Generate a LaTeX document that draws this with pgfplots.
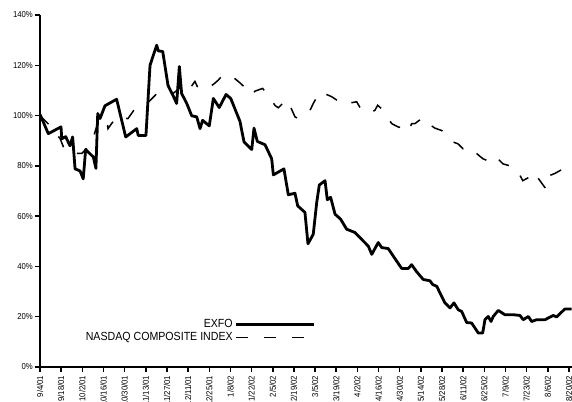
\documentclass[border=0pt]{standalone}
\usepackage{pgfplots}
\pgfplotsset{compat=1.18}
\usepackage{fontspec}
\setmainfont{Liberation Sans}[FakeStretch=0.9]
\begin{document}
\begin{tikzpicture}
\begin{axis}[
  scale only axis,
  width=532bp, height=352bp,
  xmin=0, xmax=352, ymin=0, ymax=140,
  axis lines=left,
  axis line style={-, line width=2bp},
  tick align=outside,
  major tick length=5bp,
  tick style={line width=1.5bp, black},
  xtick={0,14,...,350},
  xticklabels={9/4/01,9/18/01,10/2/01,10/16/01,10/30/01,11/13/01,11/27/01,12/11/01,12/25/01,1/8/02,1/22/02,2/5/02,2/19/02,3/5/02,3/19/02,4/2/02,4/16/02,4/30/02,5/14/02,5/28/02,6/11/02,6/25/02,7/9/02,7/23/02,8/6/02,8/20/02},
  x tick label style={rotate=90, anchor=east, font=\fontsize{8.6bp}{9bp}\selectfont, inner sep=3.5bp},
  ytick={0,20,40,60,80,100,120,140},
  yticklabels={0\%,20\%,40\%,60\%,80\%,100\%,120\%,140\%},
  y tick label style={font=\fontsize{8.6bp}{9bp}\selectfont, inner sep=2bp},
  legend plot pos=right,
  legend cell align=right,
  legend image code/.code={\draw[#1] (0bp,0bp) -- (78bp,0bp);},
  legend style={draw=none, fill=none, at={(0.5230,0.145)}, anchor=north east,
    font=\fontsize{11.8bp}{12bp}\selectfont, row sep=0bp,
    nodes={inner sep=1.5bp}},
]
\addplot[black, line width=2.8bp, line join=round] coordinates {
(0,100.5) (5.5,92.8) (13.9,95.5) (14.4,90.8) (17.0,91.6) (19.8,88) (21.6,91.5)
(23.2,78.8) (26.5,78) (28.6,74.8) (30.2,86.5) (33.1,84.8) (35.3,83.5) (37.0,79)
(38.2,100.8) (39.7,98.8) (43.0,103.9) (50.7,106.5) (56.7,91.5) (64.0,94.8)
(65.0,92.1) (70.1,92.1) (72.8,120) (77.2,128) (78.3,125.7) (81.2,125.5)
(84.7,112) (88.0,108) (90.4,104.8) (92.2,119.5) (93.7,108.8) (97.1,104.8)
(100.4,99.9) (103.7,99.5) (105.9,94.8) (107.6,98.1) (112.0,95.9) (114.7,106.8)
(118.6,103.2) (123.1,108.4) (126.2,106.8) (132.3,97.7) (135.0,89.5) (140.1,86.5)
(141.6,95) (143.8,89.7) (148.9,88.4) (153.3,82.8) (154.4,76.4) (161.4,78.8)
(164.3,68.5) (168.7,69.1) (170.5,64.1) (175.3,61.5) (177.3,49.0) (180.8,52.8)
(183.1,65.5) (184.8,72.4) (188.6,74.1) (190.1,66.5) (192.3,67.5) (195.2,60.8)
(198.9,58.8) (202.9,54.8) (208.4,53.5) (213.9,50.1) (217.2,48.1) (219.5,44.8)
(223.8,49.5) (226.1,47.5) (230.4,47.1) (236.0,42.1) (239.3,39.2) (243.7,39.2)
(245.9,40.7) (249.2,37.9) (253.6,34.8) (258.0,34.3) (259.8,32.8) (262.5,32.1)
(267.9,25.5) (271.3,23.5) (273.9,25.5) (276.7,22.8) (279.0,22.1) (282.3,17.7)
(285.6,17.5) (290.0,13.5) (292.9,13.5) (294.4,18.8) (296.6,20.1) (298.4,18.1)
(299.9,20.1) (303.2,22.5) (307.6,20.8) (313.1,20.8) (317.6,20.5) (319.7,18.8)
(323.1,20.1) (325.3,18.1) (328.6,18.8) (334.1,18.8) (339.6,20.5) (341.8,19.9)
(347.3,23.1) (351.8,23.1)
};
\addlegendentry{EXFO}
\addplot[black, line width=1.5bp, dash pattern=on 12bp off 16bp] coordinates {
(0,100) (3.3,98) (6.6,96) (9.9,93) (13.2,91) (16.5,86) (19.8,85.5) (23.2,85)
(27.8,85) (31.1,87) (35.1,91) (37.7,96) (39.7,98) (42.3,99) (44.3,97.6) (45.0,94.8)
(47.6,97) (50.9,99.6) (54.3,99) (58.2,98.8) (62.9,102.8) (66.2,104) (69.5,104.5)
(72.8,106) (77.4,108.8) (80.7,109.5) (84.0,110) (88.0,108.8) (90.6,110) (93.9,112)
(97.3,114) (100.6,112) (102.5,113.6) (104.5,111) (107.0,110.4) (110.3,110.8)
(114.7,112.4) (117.8,114) (120.9,116.1) (124.6,116.4) (127.9,115.2) (132.3,113)
(136.3,110.8) (140.1,108.1) (142.2,109.7) (147.3,110.8) (152.2,107.1) (155.5,104)
(157.7,103.1) (163.2,106.4) (166.1,103) (168.7,99.5) (170.9,98.8) (175.3,100.5)
(178.6,102) (180.8,104.8) (185.2,109.5) (189.2,108.5) (193.0,107.5) (200.7,104.4)
(205.1,105) (209.5,105.5) (212.8,102.1) (215.0,101.5) (218.3,101) (221.6,102.1)
(223.4,104.1) (227.1,102.1) (230.2,99) (232.7,96.8) (234.9,96.1) (236.9,95.5)
(240.2,95) (243.7,93.5) (245.9,96.8) (248.1,96.8) (250.9,98.1) (254.1,99.1)
(256.9,96.8) (261.3,95) (266.0,94) (269.9,90.8) (273.2,89.5) (276.5,88.8)
(279.9,86.8) (283.2,87.6) (286.5,86) (289.1,84.8) (291.1,83.8) (293.1,82.8)
(296.4,82) (299.7,80.8) (303.0,82.8) (306.3,80.8) (310.9,80) (315.4,78.8)
(319.4,74.1) (322.2,75) (324.2,75.6) (326.8,77.6) (329.0,75.6) (332.1,73)
(334.8,70.8) (337.0,76.1) (340.7,77) (344.0,78.1) (347.3,79.5) (350.6,81.5) (352.0,82.5)
};
\addlegendentry{NASDAQ COMPOSITE INDEX}
\end{axis}
\pgfresetboundingbox
\path[use as bounding box] (-40bp,-35bp) rectangle (532bp,367bp);
\end{tikzpicture}
\end{document}
